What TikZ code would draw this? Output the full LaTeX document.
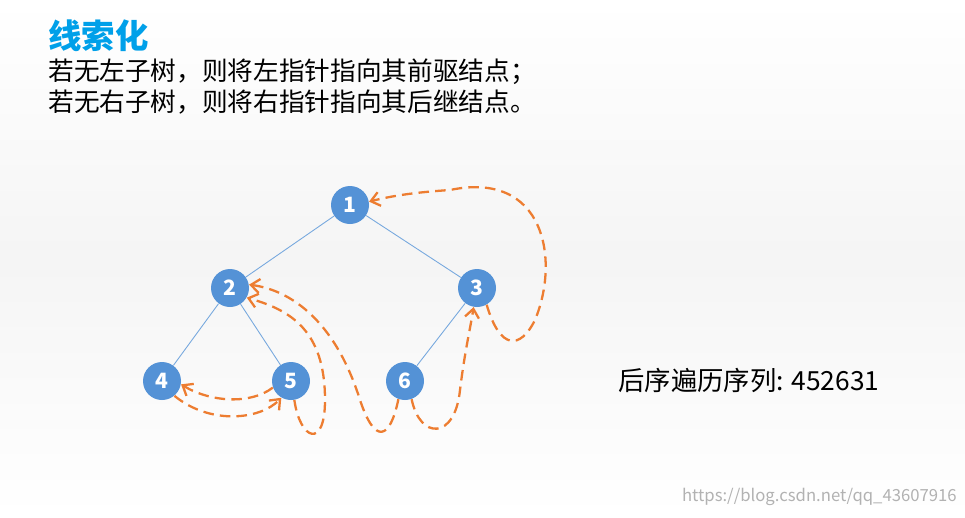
\documentclass[tikz,border=0pt]{standalone}
\usepackage{fontspec}
\setmainfont{Noto Sans CJK SC}
\usetikzlibrary{arrows.meta}
\definecolor{nodeblue}{RGB}{84,146,214}
\definecolor{threadorange}{RGB}{237,125,49}
\definecolor{titleblue}{RGB}{0,160,233}
\begin{document}
\begin{tikzpicture}[
    x=0.2mm, y=-0.2mm,
    tnode/.style={
        circle,
        minimum size=0.76cm,
        inner sep=0pt,
        fill=nodeblue,
        text=white,
        font=\large\bfseries
    },
    edge/.style={nodeblue!80, line width=0.5pt},
    thread/.style={->, >={Straight Barb[length=5pt,width=8pt]}, threadorange, line width=1.3pt, dash pattern=on 6pt off 3.5pt},
    line/.style={font=\fontsize{14.6}{17}\selectfont, anchor=west, inner sep=0pt}
]
\shade[top color=white, bottom color=white, middle color=gray!8] (0,0) rectangle (965,517);
\useasboundingbox (0,0) rectangle (965,517);

\node[anchor=west, inner sep=0pt, text=titleblue, font=\fontsize{19}{22}\selectfont\bfseries] (title) at (48,36) {线索化};
\node[line] (l1) at (48,72) {若无左子树，则将左指针指向其前驱结点；};
\node[line] (l2) at (48,102) {若无右子树，则将右指针指向其后继结点。};

\node[tnode] (n1) at (350,205) {1};
\node[tnode] (n2) at (230,288) {2};
\node[tnode] (n3) at (477,288) {3};
\node[tnode] (n4) at (162,381) {4};
\node[tnode] (n5) at (291,381) {5};
\node[tnode] (n6) at (405,381) {6};

\draw[edge] (n1) -- (n2);
\draw[edge] (n1) -- (n3);
\draw[edge] (n2) -- (n4);
\draw[edge] (n2) -- (n5);
\draw[edge] (n3) -- (n6);

% threads
\draw[thread] (n5.200) .. controls (250,405) and (210,402) .. (n4.-10);
\draw[thread] (n4.-50) .. controls (210,425) and (260,420) .. (n5.-120);
\draw[thread] (n5.-80) .. controls (300,440) and (325,450) .. (325,400)
    .. controls (325,330) and (290,310) .. (n2.-30);
\draw[thread] (n6.-110) .. controls (390,440) and (375,445) .. (360,400)
    .. controls (335,320) and (290,290) .. (n2.10);
\draw[thread] (n6.-70) .. controls (420,440) and (455,440) .. (460,390)
    .. controls (465,350) and (470,330) .. (n3.-100);
\draw[thread] (n3.-60) .. controls (500,350) and (520,350) .. (535,320)
    .. controls (560,260) and (545,170) .. (450,190) .. controls (420,192) and (395,195) .. (n1.10);

\node[anchor=west, inner sep=0pt, font=\fontsize{15}{18}\selectfont] (seq) at (618,380) {后序遍历序列: 452631};
\node[anchor=east, inner sep=0pt, text=gray!60, font=\fontsize{9.5}{11}\selectfont] (mark) at (957,497) {https://blog.csdn.net/qq\_43607916};
\end{tikzpicture}
\end{document}
